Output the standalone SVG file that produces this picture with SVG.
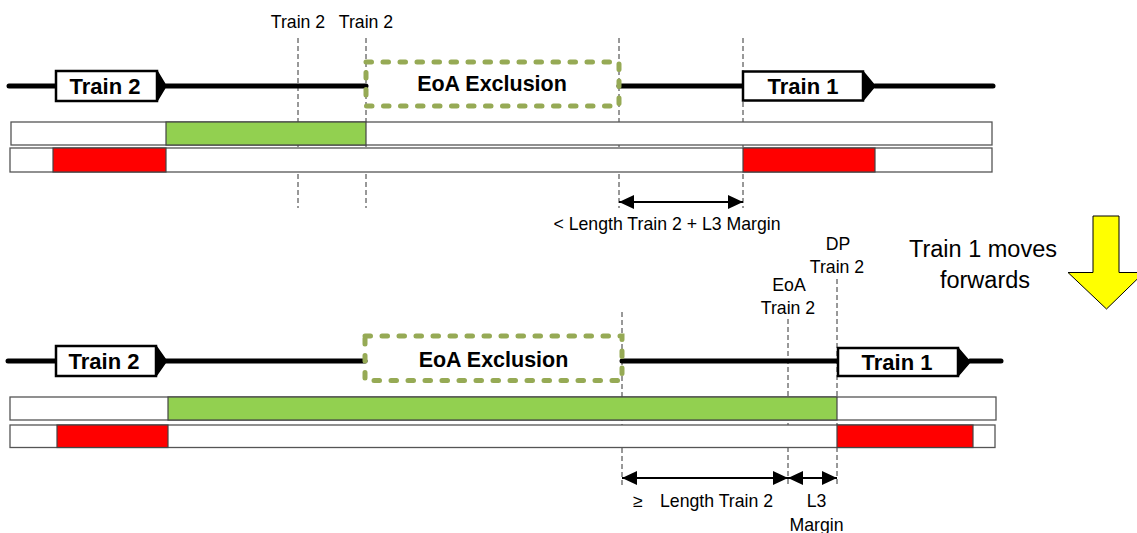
<svg xmlns="http://www.w3.org/2000/svg" width="1137" height="533" viewBox="0 0 1137 533">
<style>
.bg{fill:#fff}
.track{stroke:#000;stroke-width:5;stroke-linecap:round;fill:none}
.tbox{fill:#fff;stroke:#000;stroke-width:2.5}
.ttip{fill:#000;stroke:#000;stroke-width:1.5;stroke-linejoin:round}
.tlabel{font-family:"Liberation Sans",Arial,sans-serif;font-weight:bold;font-size:22px;text-anchor:middle;fill:#000}
.excl{fill:none;stroke:#96AA55;stroke-width:5;stroke-linecap:round;stroke-dasharray:5.5 11.5}
.exlabel{font-family:"Liberation Sans",Arial,sans-serif;font-weight:bold;font-size:21.5px;text-anchor:middle;fill:#000}
.bar{fill:#fff;stroke:#555;stroke-width:1.3}
.green{fill:#92D050;stroke:#444;stroke-width:1.2}
.red{fill:#FF0000;stroke:#444;stroke-width:1.2}
.guide{stroke:#333;stroke-width:1;stroke-dasharray:5 3;fill:none}
.dim{stroke:#000;stroke-width:2;fill:none;marker-start:url(#ah);marker-end:url(#ah)}
.lbl{font-family:"Liberation Sans",Arial,sans-serif;font-size:17.7px;text-anchor:middle;fill:#000}
.big{font-family:"Liberation Sans",Arial,sans-serif;font-size:23.5px;text-anchor:middle;fill:#000}
</style>
<defs>
<marker id="ah" viewBox="0 0 15 14" refX="15" refY="7" markerWidth="15" markerHeight="14" markerUnits="userSpaceOnUse" orient="auto-start-reverse">
<path d="M0,0 L15,7 L0,14 Z" fill="#000"/>
</marker>
</defs>
<rect class="bg" x="0" y="0" width="1137" height="533"/>

<g id="guides">
<line class="guide" x1="298" y1="38" x2="298" y2="208"/>
<line class="guide" x1="366" y1="38" x2="366" y2="208"/>
<line class="guide" x1="619" y1="38" x2="619" y2="208"/>
<line class="guide" x1="743" y1="38" x2="743" y2="208"/>
<line class="guide" x1="622" y1="312" x2="622" y2="485"/>
<line class="guide" x1="788" y1="319" x2="788" y2="485"/>
<line class="guide" x1="837" y1="279" x2="837" y2="485"/>
</g>

<g id="top-labels">
<text class="lbl" x="298" y="27.5">Train 2</text>
<text class="lbl" x="366" y="27.5">Train 2</text>
</g>

<g id="track-top">
<line class="track" x1="9" y1="86" x2="56" y2="86"/>
<line class="track" x1="166" y1="86" x2="366" y2="86"/>
<line class="track" x1="619" y1="86" x2="743" y2="86"/>
<line class="track" x1="875" y1="86" x2="993" y2="86"/>
</g>

<g id="train2-top">
<rect class="tbox" x="56" y="71" width="101" height="30"/>
<path class="ttip" d="M157,71 L166,86 L157,101 Z"/>
<text class="tlabel" x="105" y="94">Train 2</text>
</g>

<g id="eoa-exclusion-top">
<rect class="excl" x="366" y="62" width="253" height="44"/>
<text class="exlabel" x="492" y="91">EoA Exclusion</text>
</g>

<g id="train1-top">
<rect class="tbox" x="743" y="71.5" width="120" height="29"/>
<path class="ttip" d="M863,71.5 L875,86 L863,100.5 Z"/>
<text class="tlabel" x="803" y="94">Train 1</text>
</g>

<g id="bars-top">
<rect class="bar" x="11" y="122" width="981" height="23"/>
<rect class="green" x="166" y="122" width="200" height="23"/>
<rect class="bar" x="10" y="148" width="982" height="24"/>
<rect class="red" x="53" y="148" width="113" height="24"/>
<rect class="red" x="743" y="148" width="132" height="24"/>
</g>

<g id="label-length-top">
<text class="lbl" x="667" y="230">&lt; Length Train 2 + L3 Margin</text>
</g>

<g id="label-dp">
<text class="lbl" x="838" y="250">DP</text>
<text class="lbl" x="837" y="273">Train 2</text>
</g>
<g id="label-eoa">
<text class="lbl" x="789" y="291">EoA</text>
<text class="lbl" x="788" y="314">Train 2</text>
</g>

<g id="moves">
<text class="big" x="983" y="257">Train 1 moves</text>
<text class="big" x="985" y="288">forwards</text>
<path d="M1093,216 L1119,216 L1119,272.5 L1144,272.5 L1106.5,309 L1068,272.5 L1093,272.5 Z" fill="#FFFF00" stroke="#000" stroke-width="1"/>
</g>

<g id="track-bottom">
<line class="track" x1="8" y1="361" x2="56" y2="361"/>
<line class="track" x1="166" y1="361" x2="365" y2="361"/>
<line class="track" x1="622" y1="361" x2="838" y2="361"/>
<line class="track" x1="970" y1="361" x2="1001" y2="361"/>
</g>

<g id="train2-bottom">
<rect class="tbox" x="56" y="346" width="100" height="30"/>
<path class="ttip" d="M156,346 L166.5,361 L156,376 Z"/>
<text class="tlabel" x="104" y="368.5">Train 2</text>
</g>

<g id="eoa-exclusion-bottom">
<rect class="excl" x="365" y="336" width="257" height="44.5"/>
<text class="exlabel" x="493.5" y="367">EoA Exclusion</text>
</g>

<g id="train1-bottom">
<rect class="tbox" x="838" y="348" width="120" height="28"/>
<path class="ttip" d="M958,348 L970,362 L958,376 Z"/>
<text class="tlabel" x="897" y="370">Train 1</text>
</g>

<g id="bars-bottom">
<rect class="bar" x="10" y="397" width="986" height="23"/>
<rect class="green" x="168" y="397" width="669" height="23"/>
<rect class="bar" x="10" y="425" width="985" height="22.5"/>
<rect class="red" x="57" y="425" width="111" height="22.5"/>
<rect class="red" x="837" y="425" width="136" height="22.5"/>
</g>

<g id="connectors">
<line class="dim" x1="619" y1="202" x2="743" y2="202"/>
<line class="dim" x1="622" y1="478" x2="788" y2="478"/>
<line class="dim" x1="788" y1="478" x2="837" y2="478"/>
</g>

<g id="labels-bottom">
<text class="lbl" y="507"><tspan x="633" text-anchor="start">≥</tspan><tspan x="660" text-anchor="start">Length Train 2</tspan></text>
<text class="lbl" x="816.5" y="507">L3</text>
<text class="lbl" x="816.5" y="531">Margin</text>
</g>
</svg>
